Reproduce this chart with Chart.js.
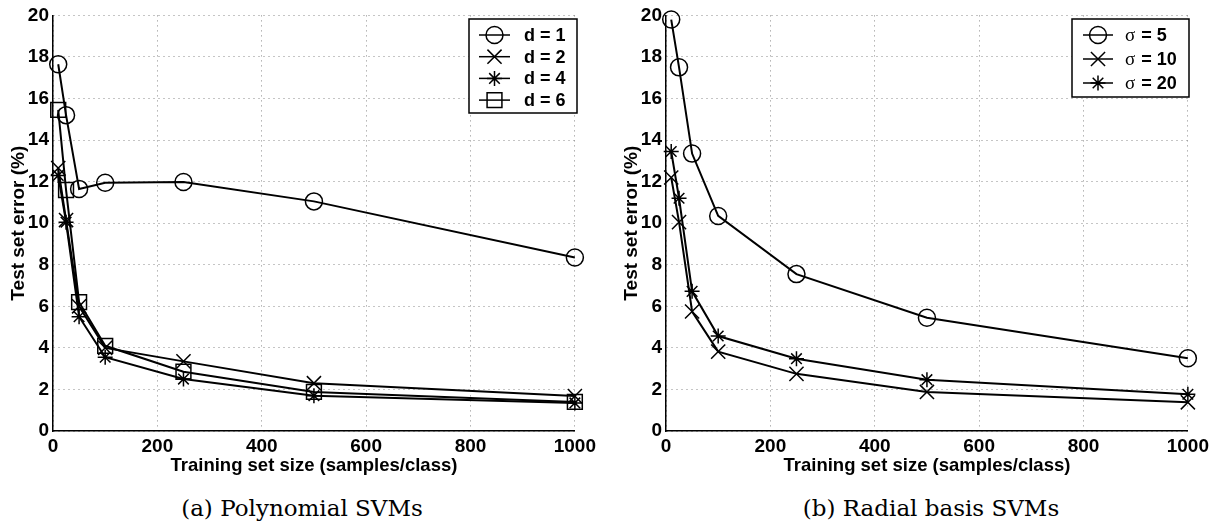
<!DOCTYPE html>
<html>
<head>
<meta charset="utf-8">
<script src="https://cdn.jsdelivr.net/npm/chart.js@4.4.1/dist/chart.umd.min.js"></script>
<style>
  body { margin: 0; background: #fff; width: 1226px; height: 531px; position: relative; overflow: hidden; }
  .box { position: absolute; top: 0; width: 600px; height: 480px; }
  .cap { position: absolute; top: 495px; width: 320px; text-align: center; font: 23px "DejaVu Serif", serif; color: #000; white-space: nowrap; }
</style>
</head>
<body>
<div class="box" style="left:0"><canvas id="polyChart"></canvas></div>
<div class="box" style="left:613px"><canvas id="rbfChart"></canvas></div>
<div class="cap" style="left:142px">(a) Polynomial SVMs</div>
<div class="cap" style="left:771px">(b) Radial basis SVMs</div>
<script>
// training set sizes (samples/class)
const sizes = [10, 25, 50, 100, 250, 500, 1000];

// polynomial SVMs, test set error (%)
const polyD1 = [17.65, 15.2, 11.65, 11.95, 11.98, 11.05, 8.35];
const polyD2 = [12.65, 10.15, 6.0, 4.0, 3.35, 2.3, 1.68];
const polyD4 = [12.3, 10.05, 5.5, 3.55, 2.5, 1.7, 1.35];
const polyD6 = [15.45, 11.6, 6.2, 4.1, 2.85, 1.88, 1.4];

// radial basis SVMs, test set error (%)
const rbfS5 = [19.8, 17.5, 13.35, 10.35, 7.55, 5.45, 3.5];
const rbfS10 = [12.2, 10.05, 5.75, 3.82, 2.75, 1.88, 1.38];
const rbfS20 = [13.45, 11.2, 6.72, 4.57, 3.48, 2.47, 1.77];

const xTicks = [0, 200, 400, 600, 800, 1000];
const yTicks = [0, 2, 4, 6, 8, 10, 12, 14, 16, 18, 20];

const FONT = "'Liberation Sans', Arial, sans-serif";

// marker drawing, shared by the legend box
function drawMarker(ctx, style, r, x, y) {
    ctx.beginPath();
    if (style === 'circle') {
        ctx.arc(x, y, r, 0, Math.PI * 2);
    } else if (style === 'rect') {
        const s = r * Math.SQRT1_2;
        ctx.rect(x - s, y - s, 2 * s, 2 * s);
    } else if (style === 'crossRot') {
        const d = r * Math.SQRT1_2;
        ctx.moveTo(x - d, y - d); ctx.lineTo(x + d, y + d);
        ctx.moveTo(x - d, y + d); ctx.lineTo(x + d, y - d);
    } else if (style === 'star') {
        const d = r * Math.SQRT1_2;
        ctx.moveTo(x, y - r); ctx.lineTo(x, y + r);
        ctx.moveTo(x - r, y); ctx.lineTo(x + r, y);
        ctx.moveTo(x - d, y - d); ctx.lineTo(x + d, y + d);
        ctx.moveTo(x - d, y + d); ctx.lineTo(x + d, y - d);
    }
    ctx.stroke();
}

// matlab-like boxed legend inside the plot
const boxLegend = {
    id: 'boxLegend',
    afterDraw(chart, args, o) {
        const ctx = chart.ctx;
        ctx.save();
        ctx.fillStyle = '#fff';
        ctx.fillRect(o.x, o.y, o.w, o.h);
        ctx.strokeStyle = '#000';
        ctx.lineWidth = 1.5;
        ctx.strokeRect(o.x, o.y, o.w, o.h);
        chart.data.datasets.forEach((ds, i) => {
            const y = o.y + o.first + i * o.gap;
            ctx.lineWidth = 1.5;
            ctx.beginPath();
            ctx.moveTo(o.lineX0, y);
            ctx.lineTo(o.lineX1, y);
            ctx.stroke();
            drawMarker(ctx, ds.pointStyle, ds.pointRadius, (o.lineX0 + o.lineX1) / 2, y);

            ctx.fillStyle = '#000';
            ctx.textBaseline = 'middle';
            let tx = o.textX;
            let label = ds.label;
            if (label.startsWith('σ')) {
                ctx.font = "19px 'Liberation Serif', serif";
                ctx.fillText('σ', tx, y + 1);
                tx += ctx.measureText('σ').width + 1;
                label = label.slice(1);
            }
            ctx.font = 'bold 18px ' + FONT;
            ctx.fillText(label, tx, y + 1);
        });
        ctx.restore();
    }
};

function series(label, values, style, radius) {
    return {
        label: label,
        data: sizes.map((s, i) => ({ x: s, y: values[i] })),
        borderColor: '#000',
        borderWidth: 2,
        pointStyle: style,
        pointRadius: radius,
        pointBorderWidth: 1.5,
        pointBorderColor: '#000',
        pointBackgroundColor: 'rgba(0,0,0,0)',
        tension: 0,
        clip: false
    };
}

function makeChart(id, datasets, legendOpts) {
    return new Chart(document.getElementById(id), {
        type: 'line',
        data: { datasets: datasets },
        plugins: [boxLegend],
        options: {
            responsive: true,
            maintainAspectRatio: false,
            animation: false,
            layout: { padding: { top: 14, right: 18, left: 0, bottom: 0 } },
            scales: {
                x: {
                    type: 'linear',
                    min: 0,
                    max: 1000,
                    afterBuildTicks(scale) { scale.ticks = xTicks.map(v => ({ value: v })); },
                    afterFit(scale) { scale.height = 49; },
                    ticks: {
                        color: '#000',
                        padding: 4,
                        callback: v => String(v),
                        font: { family: FONT, size: 19, weight: 'bold' }
                    },
                    grid: { color: '#8a8a8a', lineWidth: 1, drawTicks: false },
                    border: { display: true, color: '#000', width: 1.5, dash: [1, 4] },
                    title: {
                        display: true,
                        text: 'Training set size (samples/class)',
                        color: '#000',
                        padding: { top: 0, bottom: 3 },
                        font: { family: FONT, size: 18.5, weight: 'bold' }
                    }
                },
                y: {
                    min: 0,
                    max: 20,
                    afterBuildTicks(scale) { scale.ticks = yTicks.map(v => ({ value: v })); },
                    afterFit(scale) { scale.width = 53; },
                    ticks: {
                        color: '#000',
                        padding: 4,
                        callback: v => String(v),
                        font: { family: FONT, size: 19, weight: 'bold' }
                    },
                    grid: { color: '#8a8a8a', lineWidth: 1, drawTicks: false },
                    border: { display: true, color: '#000', width: 1.5, dash: [1, 4] },
                    title: {
                        display: true,
                        text: 'Test set error (%)',
                        color: '#000',
                        padding: { top: 7, bottom: 0 },
                        font: { family: FONT, size: 19, weight: 'bold' }
                    }
                }
            },
            plugins: {
                legend: { display: false },
                tooltip: { enabled: false },
                boxLegend: legendOpts
            }
        }
    });
}

makeChart('polyChart', [
    series('d = 1', polyD1, 'circle', 8.5),
    series('d = 2', polyD2, 'crossRot', 10),
    series('d = 4', polyD4, 'star', 7.5),
    series('d = 6', polyD6, 'rect', 10.5)
], { x: 469, y: 19, w: 108, h: 94, first: 16, gap: 21.7, lineX0: 479, lineX1: 510, textX: 524 });

makeChart('rbfChart', [
    series('σ = 5', rbfS5, 'circle', 8.5),
    series('σ = 10', rbfS10, 'crossRot', 10),
    series('σ = 20', rbfS20, 'star', 7.5)
], { x: 459, y: 19, w: 117, h: 78, first: 16, gap: 24, lineX0: 470, lineX1: 500, textX: 512 });
</script>
</body>
</html>
